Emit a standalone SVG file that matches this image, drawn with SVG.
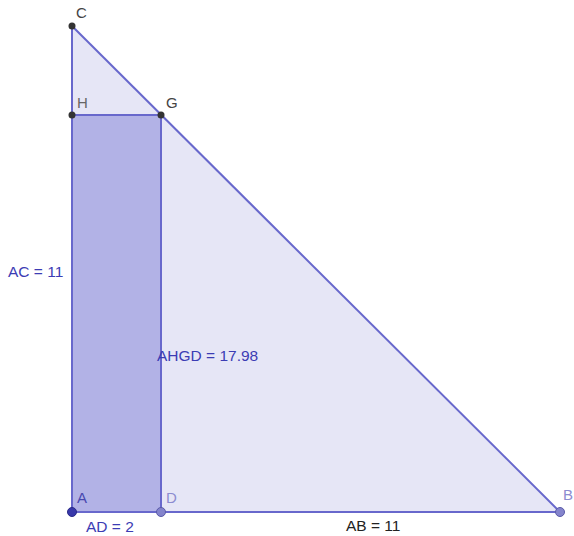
<svg xmlns="http://www.w3.org/2000/svg" width="574" height="536" viewBox="0 0 574 536">
<style>
text{font-family:"Liberation Sans",Arial,sans-serif;font-size:15.5px}
.pl{font-size:15px}
.edge{stroke:#6868cc;stroke-width:2;fill:none}
.pt{stroke-width:1}
</style>
<rect width="574" height="536" fill="#ffffff"/>
<g id="triangle">
<polygon points="72,26 560,512 72,512" fill="#e6e6f6" stroke="none"/>
</g>
<g id="rectangle">
<polygon points="72,115 161,115 161,512 72,512" fill="#b2b2e6" stroke="none"/>
</g>
<g id="connectors">
<line class="edge" x1="72" y1="26" x2="560" y2="512"/>
<line class="edge" x1="72" y1="26" x2="72" y2="512"/>
<line class="edge" x1="72" y1="512" x2="560" y2="512"/>
<line class="edge" x1="72" y1="115" x2="161" y2="115"/>
<line class="edge" x1="161" y1="115" x2="161" y2="512"/>
</g>
<g id="C"><circle cx="72" cy="26" r="3.5" fill="#333333"/><text class="pl" x="76" y="18" fill="#444444">C</text></g>
<g id="H"><circle cx="72" cy="115" r="3.5" fill="#333333"/><text class="pl" x="77" y="108" fill="#666666">H</text></g>
<g id="G"><circle cx="161" cy="115" r="3.5" fill="#333333"/><text class="pl" x="166" y="108" fill="#444444">G</text></g>
<g id="A"><circle cx="72" cy="512" r="4.5" fill="#3838aa" stroke="#2a2a88" class="pt"/><text class="pl" x="77" y="503" fill="#4848b0">A</text></g>
<g id="D"><circle cx="161" cy="512" r="4.5" fill="#8484cc" stroke="#5a5aa8" class="pt"/><text class="pl" x="166" y="503" fill="#8c8cd0">D</text></g>
<g id="B"><circle cx="560" cy="512" r="4.5" fill="#8484cc" stroke="#5a5aa8" class="pt"/><text class="pl" x="563" y="500" fill="#8c8cd0">B</text></g>
<g id="labels">
<text x="8" y="277" fill="#3c3cb4">AC = 11</text>
<text x="157" y="361" fill="#3c3cb4">AHGD = 17.98</text>
<text x="86" y="532" fill="#3c3cb4">AD = 2</text>
<text x="346" y="531" fill="#222222">AB = 11</text>
</g>
</svg>
